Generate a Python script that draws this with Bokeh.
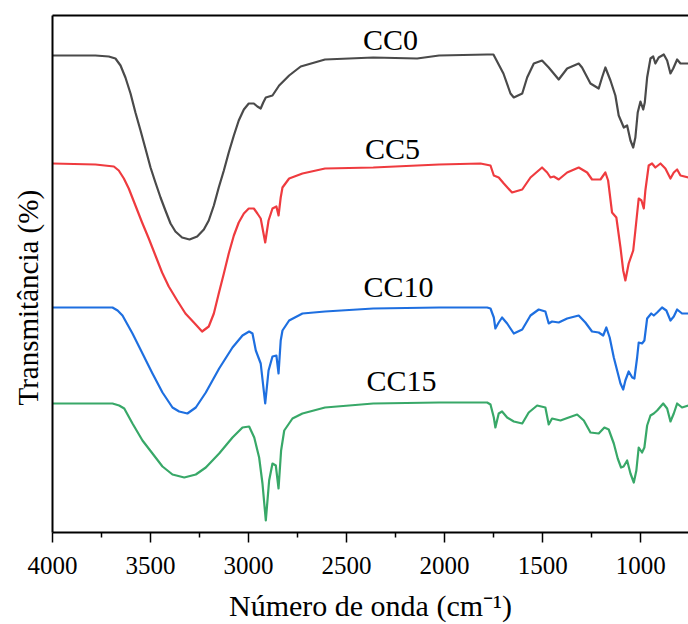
from bokeh.plotting import figure
from bokeh.models import Range1d, FixedTicker, LinearAxis, Label, Title
from bokeh.embed import file_html
from bokeh.resources import INLINE

# ---- data (wavenumber cm^-1, transmittance in arbitrary units) ----
cc0_wn = [4000, 3781, 3713, 3679, 3653, 3628, 3602, 3577, 3551, 3526, 3500, 3475, 3449, 3424, 3398, 3373, 3339, 3301,
          3262, 3228, 3203, 3177, 3152, 3126, 3101, 3075, 3050, 3024, 2999, 2973, 2955, 2938, 2925, 2912, 2878, 2844,
          2793, 2734, 2610, 2364, 2140, 2028, 1783, 1751, 1700, 1664, 1647, 1604, 1579,
          1545, 1503, 1469, 1418, 1375, 1316, 1299, 1256, 1214, 1197, 1180, 1154, 1129, 1112, 1086, 1069, 1052, 1038,
          1027, 1015, 1001, 987, 979, 967, 950, 936, 925, 908, 882, 865, 848, 834, 814, 797, 780, 756]
cc0_t = [477, 477, 476, 474, 467, 455, 439, 420, 402, 384, 365, 350, 335, 322, 309, 301, 295, 293,
         296, 303, 312, 327, 345, 362, 380, 397, 412, 423, 429, 429, 426, 424, 430, 435, 437, 447,
         457, 466, 473, 475, 474, 477, 478, 478, 459, 439, 435, 439, 455,
         469, 472, 465, 453, 464, 469, 465, 449, 444, 455, 465, 452, 437, 417, 405, 407, 392, 385,
         395, 420, 431, 423, 430, 455, 474, 476, 469, 475, 478, 472, 459, 464, 473, 469, 469, 469]

cc5_wn = [4000, 3781, 3687, 3662, 3636, 3611, 3577, 3543, 3509, 3475, 3441, 3407, 3364, 3322, 3279, 3237, 3203, 3177,
          3152, 3126, 3101, 3075, 3050, 3024, 2999, 2973, 2955, 2938, 2915, 2898, 2878, 2858, 2847, 2836, 2827, 2793,
          2725, 2610, 2364, 2028, 1817, 1766, 1749,
          1724, 1698, 1656, 1604, 1562, 1503, 1477, 1460, 1443, 1418, 1375, 1316, 1273, 1248, 1205, 1180, 1166, 1146,
          1124, 1103, 1089, 1078, 1061, 1038, 1027, 1010, 996, 984, 976, 959, 942, 925, 899, 874, 848, 831, 814, 797, 756]
cc5_t = [369, 368, 366, 362, 354, 344, 327, 310, 294, 277, 260, 246, 232, 219, 210, 201, 206, 219,
         239, 259, 279, 297, 310, 319, 324, 324, 319, 314, 290, 312, 324, 326, 317, 335, 345, 354,
         359, 364, 365, 368, 369, 367, 357,
         355, 349, 340, 343, 355, 365, 360, 355, 356, 353, 360, 365, 360, 353, 353, 360, 352, 320,
         315, 285, 262, 252, 269, 282, 302, 334, 332, 324, 342, 367, 369, 365, 369, 364, 354, 360, 363, 357, 355]

cc10_wn = [4000, 3694, 3668, 3643, 3592, 3541, 3490, 3439, 3388, 3354, 3312, 3269, 3218, 3150, 3082, 3031, 2997, 2980,
           2963, 2938, 2915, 2898, 2878, 2858, 2847, 2836, 2827, 2793, 2725, 2610, 2364, 2028, 1783, 1766, 1749, 1741,
           1724, 1707, 1681, 1647, 1604, 1562, 1520, 1486, 1469, 1452, 1418, 1375, 1316, 1282, 1248, 1214, 1191, 1175,
           1158, 1137, 1120, 1103, 1089, 1078, 1061, 1043, 1032, 1018, 1010, 993, 981, 967, 946, 933, 916, 891, 869,
           848, 831, 814, 789, 756]
cc10_t = [225, 225, 222, 217, 199, 179, 159, 140, 125, 121, 119, 125, 140, 164, 185, 197, 201, 199,
          182, 169, 129, 162, 176, 177, 159, 192, 202, 212, 219, 221, 224, 225, 225, 224, 215, 204,
          210, 215, 209, 199, 203, 217, 223, 221, 209, 211, 210, 214, 217, 210, 201, 200, 197, 205,
          195, 175, 162, 149, 143, 152, 161, 155, 154, 175, 190, 189, 192, 214, 219, 217, 220, 225, 222,
          212, 216, 223, 219, 219]

cc15_wn = [4000, 3694, 3660, 3634, 3592, 3541, 3490, 3439, 3388, 3328, 3269, 3218, 3150, 3082, 3031, 2997, 2971, 2946,
           2929, 2912, 2895, 2878, 2861, 2847, 2834, 2818, 2776, 2725, 2610, 2364, 2028, 1783, 1766, 1749, 1741, 1724,
           1707, 1681, 1647, 1604, 1571, 1528, 1486, 1469, 1452, 1409, 1367, 1324, 1290, 1256, 1214, 1185, 1163, 1137,
           1117, 1100, 1087, 1069, 1052, 1035, 1022, 1010, 993, 981, 967, 950, 933, 916, 885, 865, 848, 831, 814, 789,
           756]
cc15_t = [129, 129, 127, 124, 109, 92, 79, 66, 58, 55, 58, 65, 79, 95, 105, 106, 95, 75,
          49, 12, 52, 69, 67, 44, 82, 102, 114, 119, 125, 129, 130, 130, 128, 115, 105, 119,
          121, 115, 111, 109, 120, 127, 125, 108, 114, 112, 115, 118, 112, 100, 99, 105, 103, 89,
          74, 65, 66, 72, 59, 50, 62, 85, 80, 85, 107, 117, 119, 122, 129, 124, 111, 119, 129, 125,
          127]

series_names = ["CC0", "CC5", "CC10", "CC15"]
series_colors = ["#4a4a4a", "#ef3b3f", "#1e6fe0", "#38a868"]
label_wn = [2276, 2266, 2235, 2220]
label_t = [493, 384, 246, 152]

x_ticks = [4000, 3500, 3000, 2500, 2000, 1500, 1000]
x_minor = [3750, 3250, 2750, 2250, 1750, 1250, 750]

FONT = "Liberation Serif"

p = figure(width=688, height=624, output_backend="svg", toolbar_location=None,
           x_range=Range1d(4000, 756), y_range=Range1d(0, 517),
           min_border_left=52, min_border_right=0, min_border_top=15, min_border_bottom=92)
p.grid.visible = False
p.outline_line_color = None
p.background_fill_color = "white"
p.border_fill_color = "white"

data = [(cc0_wn, cc0_t), (cc5_wn, cc5_t), (cc10_wn, cc10_t), (cc15_wn, cc15_t)]
for (wn, t), c in zip(data, series_colors):
    p.line(wn, t, line_color=c, line_width=2.2, line_join="round")

for name, lx, ly in zip(series_names, label_wn, label_t):
    p.add_layout(Label(x=lx, y=ly, text=name, text_align="center", text_baseline="alphabetic",
                       text_font=FONT, text_font_size="30px", text_color="black"))

xa = p.xaxis[0]
xa.ticker = FixedTicker(ticks=x_ticks, minor_ticks=x_minor)
xa.major_tick_in = 0
xa.major_tick_out = 10
xa.minor_tick_in = 0
xa.minor_tick_out = 5
xa.axis_line_width = 2
xa.major_tick_line_width = 1.5
xa.minor_tick_line_width = 1.5
xa.major_label_text_font = FONT
xa.major_label_text_font_size = "25px"
xa.major_label_text_color = "black"
xa.major_label_standoff = 14
xa.axis_label = "Número de onda (cm⁻¹)"
xa.axis_label_text_font = FONT
xa.axis_label_text_font_size = "30px"
xa.axis_label_text_font_style = "normal"
xa.axis_label_text_color = "black"
xa.axis_label_standoff = 12

ya = p.yaxis[0]
ya.ticker = FixedTicker(ticks=[])
ya.major_label_text_font_size = "0px"
ya.major_tick_out = 0
ya.minor_tick_out = 0
ya.axis_line_width = 2

# y-axis title as a side title, anchored near the bottom of the frame as in the reference
p.add_layout(Title(text="Transmitância (%)", align="left", vertical_align="middle", offset=127,
                   text_font=FONT, text_font_size="29px", text_font_style="normal", text_color="black",
                   standoff=16), "left")

top = LinearAxis(ticker=FixedTicker(ticks=[]), major_label_text_font_size="0px",
                 major_tick_out=0, minor_tick_out=0, axis_line_width=2)
p.add_layout(top, "above")

open("out.html", "w").write(file_html(p, INLINE))
